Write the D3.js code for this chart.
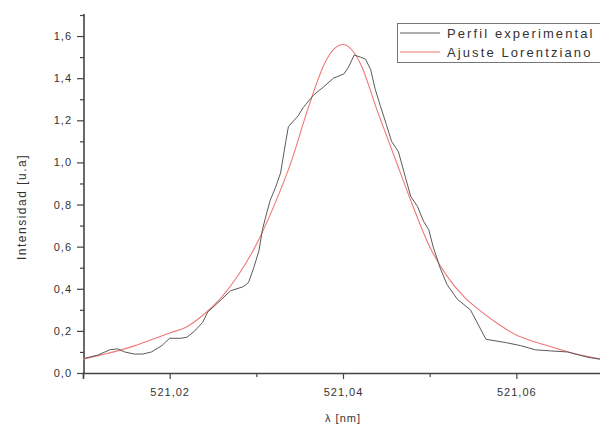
<!DOCTYPE html>
<html><head><meta charset="utf-8">
<script src="https://cdn.jsdelivr.net/npm/d3@7/dist/d3.min.js"></script>
<style>
html,body{margin:0;padding:0;background:#fff;}
svg{display:block;}
text{font-family:"Liberation Sans",Arial,sans-serif;fill:#333;}
</style></head>
<body><svg id="c" width="600" height="428"></svg>
<script>
// Experimental profile (wavelength nm, intensity a.u.)
const expX = [521.0102,521.0117,521.0131,521.0140,521.0148,521.0159,521.0169,521.0179,521.0191,521.0200,
  521.0213,521.0220,521.0229,521.0238,521.0244,521.0252,521.0260,521.0270,521.0285,521.0291,
  521.0297,521.0303,521.0307,521.0312,521.0316,521.0322,521.0328,521.0334,521.0337,521.0348,
  521.0354,521.0366,521.0378,521.0389,521.0401,521.0406,521.0413,521.0420,521.0426,521.0432,
  521.0437,521.0443,521.0450,521.0456,521.0464,521.0472,521.0478,521.0486,521.0493,521.0499,
  521.0504,521.0512,521.0520,521.0532,521.0547,521.0565,521.0587,521.0605,521.0622,521.0639,
  521.0659,521.0682,521.0697];
const expY = [0.07,0.085,0.11,0.115,0.10,0.09,0.09,0.10,0.13,0.165,
  0.165,0.17,0.20,0.24,0.29,0.32,0.35,0.39,0.41,0.43,
  0.50,0.58,0.68,0.76,0.82,0.88,0.95,1.10,1.17,1.22,
  1.26,1.32,1.36,1.40,1.42,1.45,1.51,1.50,1.49,1.44,
  1.35,1.27,1.18,1.10,1.05,0.93,0.84,0.79,0.72,0.68,
  0.60,0.50,0.42,0.35,0.30,0.16,0.145,0.13,0.11,0.105,
  0.10,0.075,0.065];
// Lorentzian fit
const fitX = [521.010,521.012,521.014,521.016,521.018,521.020,521.022,521.024,521.026,521.028,
  521.030,521.032,521.034,521.036,521.038,521.039,521.040,521.041,521.042,521.044,
  521.046,521.048,521.050,521.052,521.054,521.056,521.058,521.060,521.062,521.064,
  521.066,521.068,521.070];
const fitY = [0.065,0.085,0.105,0.13,0.16,0.19,0.22,0.28,0.36,0.47,
  0.61,0.79,1.00,1.26,1.48,1.54,1.56,1.535,1.47,1.24,
  1.02,0.80,0.60,0.46,0.36,0.29,0.23,0.18,0.15,0.125,
  0.10,0.08,0.065];
const xTicks = [521.02,521.04,521.06];
const xMinor = [521.01,521.03,521.05,521.07];
const yTicks = [0,0.2,0.4,0.6,0.8,1.0,1.2,1.4,1.6];
const yMinor = [0.1,0.3,0.5,0.7,0.9,1.1,1.3,1.5,1.7];
const seriesNames = ["Perfil experimental","Ajuste Lorentziano"];
const seriesColors = ["#5a5a5a","#f07878"];

const svg = d3.select("#c");
const x = d3.scaleLinear().domain([521.01,521.07]).range([83,603]);
const y = d3.scaleLinear().domain([0,1.7]).range([373,15]);
const fmt = d => d3.format(".2f")(d).replace(".", ",");
const fmtY = d => d3.format(".1f")(d).replace(".", ",");

// Axes
const gx = svg.append("g").attr("transform","translate(0,373)")
  .call(d3.axisBottom(x).tickValues(xTicks).tickFormat(fmt).tickSizeOuter(0).tickSize(6).tickPadding(9));
const gxm = svg.append("g").attr("transform","translate(0,373)")
  .call(d3.axisBottom(x).tickValues(xMinor).tickFormat("").tickSizeOuter(0).tickSize(4));
const gy = svg.append("g").attr("transform","translate(84,0)")
  .call(d3.axisLeft(y).tickValues(yTicks).tickFormat(fmtY).tickSizeOuter(0).tickSize(7).tickPadding(5));
const gym = svg.append("g").attr("transform","translate(84,0)")
  .call(d3.axisLeft(y).tickValues(yMinor).tickFormat("").tickSizeOuter(0).tickSize(4));
[gx,gxm,gy,gym].forEach(g=>{
  g.selectAll(".domain").attr("stroke","#444").attr("stroke-width",1.6);
  g.selectAll(".tick line").attr("stroke","#444").attr("stroke-width",1.2);
  g.selectAll(".tick text").attr("fill","#333").style("font-size","11px").style("letter-spacing","1px")
   .style("font-family","'Liberation Sans',Arial,sans-serif");
});
gxm.select(".domain").remove();
gym.select(".domain").remove();
gy.select(".domain").attr("d","M0,14V373");

// Lines
const expData = expX.map((v,i)=>[v,expY[i]]);
const fitData = fitX.map((v,i)=>[v,fitY[i]]);
svg.append("path").datum(fitData).attr("fill","none").attr("stroke",seriesColors[1]).attr("stroke-width",1.1)
  .attr("d", d3.line().x(d=>x(d[0])).y(d=>y(d[1])).curve(d3.curveMonotoneX));
svg.append("path").datum(expData).attr("fill","none").attr("stroke",seriesColors[0]).attr("stroke-width",1)
  .attr("d", d3.line().x(d=>x(d[0])).y(d=>y(d[1])));

// Axis titles
svg.append("text").attr("x",343).attr("y",422).attr("text-anchor","middle")
  .style("font-size","11px").style("letter-spacing","1px").text("λ [nm]");
svg.append("text").attr("transform","translate(26,207) rotate(-90)").attr("text-anchor","middle")
  .style("font-size","12px").style("letter-spacing","1.5px").text("Intensidad [u.a]");

// Legend
const lg = svg.append("g");
lg.append("rect").attr("x",397.5).attr("y",23.5).attr("width",230).attr("height",39)
  .attr("fill","#fff").attr("stroke","#777").attr("stroke-width",1);
seriesNames.forEach((n,i)=>{
  const yy = 33 + i*19;
  lg.append("line").attr("x1",400).attr("x2",440).attr("y1",yy).attr("y2",yy)
    .attr("stroke",seriesColors[i]).attr("stroke-width",1);
  lg.append("text").attr("x",447).attr("y",yy+4.5).style("font-size","13px").style("letter-spacing","2.1px")
    .attr("fill","#222").text(n);
});
</script></body></html>
